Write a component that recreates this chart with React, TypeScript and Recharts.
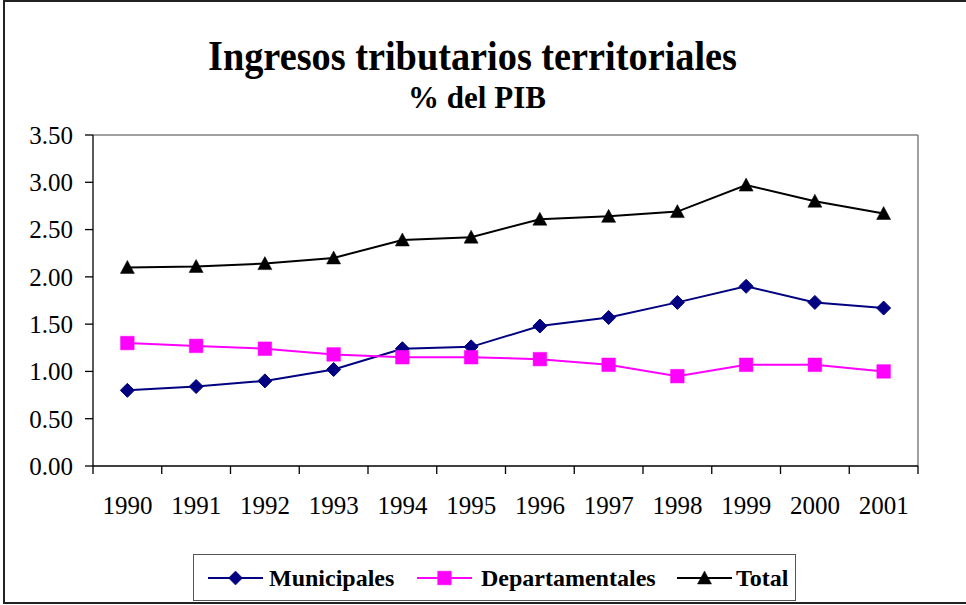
import React from 'react';
import { LineChart, Line, XAxis, YAxis, ReferenceLine, Legend } from 'recharts';

const years = ['1990', '1991', '1992', '1993', '1994', '1995', '1996', '1997', '1998', '1999', '2000', '2001'];
const municipales = [0.8, 0.84, 0.9, 1.02, 1.24, 1.26, 1.48, 1.57, 1.73, 1.9, 1.73, 1.67];
const departamentales = [1.3, 1.27, 1.24, 1.18, 1.15, 1.15, 1.13, 1.07, 0.95, 1.07, 1.07, 1.0];
const total = [2.1, 2.11, 2.14, 2.2, 2.39, 2.42, 2.61, 2.64, 2.69, 2.97, 2.8, 2.67];
const yTicks = [0, 0.5, 1, 1.5, 2, 2.5, 3, 3.5];
const boundaryTicks = years.map((_, i) => i).concat([years.length]);

const seriesNames = ['Municipales', 'Departamentales', 'Total'];

const data = years.map((year, i) => ({
  year,
  x: i + 0.5,
  municipales: municipales[i],
  departamentales: departamentales[i],
  total: total[i],
}));

const FONT = '"Liberation Serif", "Times New Roman", serif';
const NAVY = '#000080';
const MAGENTA = '#FF00FF';
const BLACK = '#000000';

const PLOT_LEFT = 93;
const PLOT_RIGHT = 918;
const HALF_BAND = (PLOT_RIGHT - PLOT_LEFT) / years.length / 2;

const diamondPath = (x: number, y: number, r: number) =>
  `M${x},${y - r}L${x + r},${y}L${x},${y + r}L${x - r},${y}Z`;
const squarePath = (x: number, y: number, r: number) =>
  `M${x - r},${y - r}L${x + r},${y - r}L${x + r},${y + r}L${x - r},${y + r}Z`;
const trianglePath = (x: number, y: number, r: number) =>
  `M${x},${y - r}L${x + r},${y + r - 1}L${x - r},${y + r - 1}Z`;

const Diamond = (props: any) => (
  <path key={`dm-${props.index}`} d={diamondPath(props.cx, props.cy, 7)} fill={NAVY} stroke={NAVY} strokeWidth={1} />
);
const Square = (props: any) => (
  <path key={`sq-${props.index}`} d={squarePath(props.cx, props.cy, 6.8)} fill={MAGENTA} stroke={MAGENTA} strokeWidth={0.5} />
);
const Triangle = (props: any) => (
  <path key={`tr-${props.index}`} d={trianglePath(props.cx, props.cy, 7)} fill={BLACK} stroke={BLACK} strokeWidth={0.5} />
);

const YearTick = (props: any) => {
  const { x, y, payload } = props;
  const i = payload.value;
  if (i >= years.length) return <g />;
  return (
    <text x={x + HALF_BAND} y={y + 40} textAnchor="middle" fontSize={25} fontFamily={FONT} fill="#000">
      {years[i]}
    </text>
  );
};

const LegendIcon = ({ color, kind }: { color: string; kind: string }) => {
  const cx = 27.5;
  const cy = 8;
  let d = '';
  if (kind === 'diamond') d = diamondPath(cx, cy, 7);
  else if (kind === 'square') d = squarePath(cx, cy, 6.8);
  else d = trianglePath(cx, cy, 7);
  return (
    <svg width={55} height={16} style={{ display: 'block' }}>
      <line x1={0} y1={cy} x2={55} y2={cy} stroke={color} strokeWidth={2} />
      <path d={d} fill={color} stroke={color} strokeWidth={0.5} />
    </svg>
  );
};

const legendItems = [
  { name: seriesNames[0], color: NAVY, kind: 'diamond', iconLeft: 14, textLeft: 75 },
  { name: seriesNames[1], color: MAGENTA, kind: 'square', iconLeft: 223, textLeft: 287 },
  { name: seriesNames[2], color: BLACK, kind: 'triangle', iconLeft: 483, textLeft: 542 },
];

const LegendContent = () => (
  <div
    style={{
      position: 'relative',
      width: 603,
      height: 47,
      boxSizing: 'border-box',
      border: '1.5px solid #555',
      background: '#fff',
      fontFamily: FONT,
    }}
  >
    {legendItems.map((it) => (
      <React.Fragment key={it.name}>
        <div style={{ position: 'absolute', left: it.iconLeft, top: 15 }}>
          <LegendIcon color={it.color} kind={it.kind} />
        </div>
        <div
          style={{
            position: 'absolute',
            left: it.textLeft,
            top: 11,
            fontSize: 24,
            lineHeight: '24px',
            fontWeight: 'bold',
            color: '#000',
            whiteSpace: 'nowrap',
          }}
        >
          {it.name}
        </div>
      </React.Fragment>
    ))}
  </div>
);

export default function App() {
  return (
    <div
      style={{
        position: 'absolute',
        left: 0,
        top: 0,
        width: 966,
        height: 605,
        background: '#fff',
        overflow: 'hidden',
        fontFamily: FONT,
      }}
    >
      <div
        style={{
          position: 'absolute',
          left: 3,
          top: 0,
          width: 1000,
          height: 604,
          boxSizing: 'border-box',
          border: '2px solid #222',
        }}
      />
      <div style={{ position: 'absolute', left: 0, top: 0 }}>
        <LineChart
          width={966}
          height={605}
          data={data}
          margin={{ top: 135, right: 966 - PLOT_RIGHT, bottom: 79, left: 33 }}
        >
          <XAxis
            dataKey="x"
            type="number"
            domain={[0, years.length]}
            ticks={boundaryTicks}
            interval={0}
            height={60}
            tickSize={8}
            tickMargin={0}
            tick={<YearTick />}
            axisLine={{ stroke: '#000', strokeWidth: 1.3 }}
            tickLine={{ stroke: '#000', strokeWidth: 1.3 }}
            allowDataOverflow
          />
          <YAxis
            type="number"
            domain={[0, 3.5]}
            ticks={yTicks}
            interval={0}
            width={60}
            tickSize={8}
            tickMargin={12}
            tickFormatter={(v: number) => v.toFixed(2)}
            tick={{ fill: '#000', fontSize: 25, fontFamily: FONT }}
            axisLine={{ stroke: '#000', strokeWidth: 1.3 }}
            tickLine={{ stroke: '#000', strokeWidth: 1.3 }}
          />
          <ReferenceLine y={3.5} stroke="#808080" strokeWidth={1.5} />
          <ReferenceLine x={years.length} stroke="#808080" strokeWidth={1.5} />
          <Line
            type="linear"
            dataKey="municipales"
            name={seriesNames[0]}
            stroke={NAVY}
            strokeWidth={2}
            dot={Diamond}
            activeDot={false}
            isAnimationActive={false}
          />
          <Line
            type="linear"
            dataKey="departamentales"
            name={seriesNames[1]}
            stroke={MAGENTA}
            strokeWidth={2}
            dot={Square}
            activeDot={false}
            isAnimationActive={false}
          />
          <Line
            type="linear"
            dataKey="total"
            name={seriesNames[2]}
            stroke={BLACK}
            strokeWidth={2}
            dot={Triangle}
            activeDot={false}
            isAnimationActive={false}
          />
          <Legend
            layout="horizontal"
            verticalAlign="middle"
            align="center"
            content={<LegendContent />}
            wrapperStyle={{ left: 193, top: 554, width: 603, height: 47 }}
          />
        </LineChart>
      </div>
      <svg
        width={966}
        height={130}
        style={{ position: 'absolute', left: 0, top: 0, pointerEvents: 'none' }}
      >
        <text
          x={472.5}
          y={70}
          textAnchor="middle"
          fontFamily={FONT}
          fontWeight="bold"
          fontSize={42}
          textLength={529}
          lengthAdjust="spacingAndGlyphs"
          fill="#000"
        >
          Ingresos tributarios territoriales
        </text>
        <text
          x={477}
          y={108}
          textAnchor="middle"
          fontFamily={FONT}
          fontWeight="bold"
          fontSize={31}
          fill="#000"
        >
          % del PIB
        </text>
      </svg>
    </div>
  );
}
